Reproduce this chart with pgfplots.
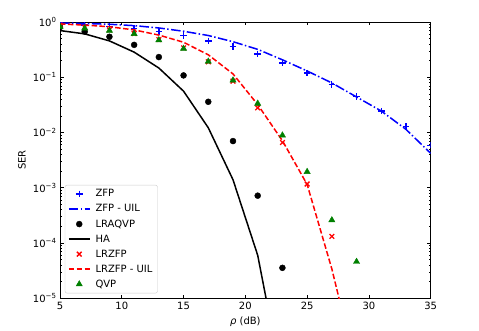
\documentclass[border=0pt]{standalone}
\usepackage{fontspec}
\setmainfont{DejaVu Sans}
\usepackage{pgfplots}
\pgfplotsset{compat=1.18}

\begin{document}
\fontsize{10pt}{12pt}\selectfont
\begin{tikzpicture}
\useasboundingbox (0,0) rectangle (479pt,330pt);
\begin{axis}[
    at={(60pt,31.7pt)}, anchor=south west,
    scale only axis,
    width=370.7pt, height=276.3pt,
    ymode=log,
    xmin=5, xmax=35, ymin=1e-5, ymax=1,
    xtick={5,10,...,35},
    ytick={1e-5,1e-4,1e-3,1e-2,1e-1,1},
    yticklabels={10\textsuperscript{−5},10\textsuperscript{−4},10\textsuperscript{−3},10\textsuperscript{−2},10\textsuperscript{−1},10\textsuperscript{0}},
    /pgf/number format/assume math mode=true,
    tick align=inside,
    major tick length=3.5pt, minor tick length=2pt,
    every tick/.style={black, line width=0.6pt},
    axis line style={line width=0.8pt},
    tick label style={font=\fontsize{10pt}{12pt}\selectfont},
    xlabel={\textit{ρ} (dB)},
    ylabel={SER},
    xlabel style={at={(axis description cs:0.5,-0.0855)}, anchor=center},
    ylabel style={at={(axis description cs:-0.1025,0.5)}, anchor=center},
    clip marker paths=true,
    legend cell align=left,
    legend image code/.code={\draw[mark repeat=2,mark phase=2,#1]
        plot coordinates {(0pt,0pt) (10.5pt,0pt) (21pt,0pt)};},
    legend style={at={(0.013,0.018)}, anchor=south west,
        draw=black!20, rounded corners=2pt, fill=white,
        font=\fontsize{10pt}{12pt}\selectfont,
        row sep=2.2pt, inner xsep=3pt, inner ysep=2.5pt,
        /tikz/every odd column/.append style={column sep=3pt}},
]
\addplot[only marks, blue, mark=+, mark size=3.3pt, mark options={line width=1.3pt}]
    coordinates {(5,0.96) (7,0.88) (9,0.82) (11,0.77) (13,0.67) (15,0.57) (17,0.455) (19,0.36)
                 (21,0.262) (23,0.181) (25,0.119) (27,0.0746) (29,0.0448) (31,0.0244) (33,0.0129) (35,0.0059)};
\addlegendentry{ZFP}
\addplot[blue, line width=1.5pt, dash pattern=on 9.6pt off 2.4pt on 1.5pt off 2.4pt]
    coordinates {(5,0.96) (7,0.94) (9,0.91) (11,0.86) (13,0.78) (15,0.68) (17,0.57) (19,0.44)
                 (21,0.32) (23,0.207) (25,0.13) (27,0.079) (29,0.044) (31,0.0245) (33,0.0114) (35,0.0042)};
\addlegendentry{ZFP - UIL}
\addplot[only marks, black, mark=*, mark size=3pt]
    coordinates {(5,0.81) (7,0.67) (9,0.54) (11,0.386) (13,0.232) (15,0.108) (17,0.036) (19,0.0070)
                 (21,7.2e-4) (23,3.56e-5)};
\addlegendentry{LRAQVP}
\addplot[black, line width=1.5pt]
    coordinates {(5,0.70) (7,0.61) (9,0.455) (11,0.285) (13,0.147) (15,0.056) (17,0.0122) (19,0.0014)
                 (21,6e-5) (23,3e-7)};
\addlegendentry{HA}
\addplot[only marks, red, mark=x, mark size=3.3pt, mark options={line width=1.3pt}]
    coordinates {(5,0.88) (7,0.80) (9,0.72) (11,0.62) (13,0.48) (15,0.34) (17,0.19) (19,0.085)
                 (21,0.028) (23,0.0066) (25,1.17e-3) (27,1.32e-4)};
\addlegendentry{LRZFP}
\addplot[red, line width=1.5pt, dash pattern=on 5.5pt off 2.4pt]
    coordinates {(5,0.92) (7,0.88) (9,0.82) (11,0.72) (13,0.58) (15,0.43) (17,0.255) (19,0.115)
                 (21,0.032) (23,0.0071) (25,1.15e-3) (27,3.4e-5) (29,5e-7)};
\addlegendentry{LRZFP - UIL}
\addplot[only marks, green!50!black, mark=triangle*, mark size=3.6pt]
    coordinates {(5,0.82) (7,0.77) (9,0.70) (11,0.61) (13,0.47) (15,0.33) (17,0.193) (19,0.088)
                 (21,0.0335) (23,0.0089) (25,1.95e-3) (27,2.6e-4) (29,4.6e-5)};
\addlegendentry{QVP}
\end{axis}
\end{tikzpicture}
\end{document}
